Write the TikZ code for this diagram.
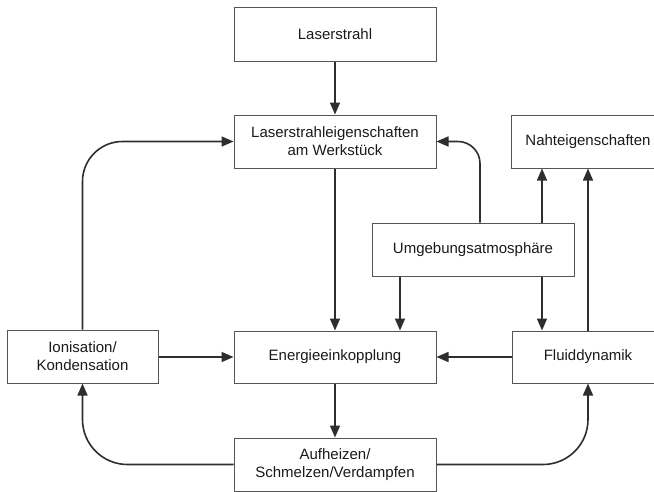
\documentclass[tikz,border=0pt]{standalone}
\usepackage{fontspec}
\setmainfont{Liberation Sans}
\usetikzlibrary{arrows.meta}
\definecolor{linec}{HTML}{2E2E2E}
\definecolor{boxc}{HTML}{555555}
\definecolor{txtc}{HTML}{1A1A1A}
\begin{document}
\begin{tikzpicture}[x=1pt,y=-1pt,
  box/.style={draw=boxc, line width=1pt, fill=white, rectangle, minimum height=53pt,
    inner sep=0pt, align=center, text=txtc, font=\fontsize{15}{18}\selectfont},
  arr/.style={draw=linec, line width=1.6pt, -{Triangle[width=10pt,length=12pt]}}]
\useasboundingbox (0,0) rectangle (654,491);
\clip (0,0) rectangle (654,491);
\fill[white] (0,0) rectangle (654,491);
\node[box, minimum width=202pt, minimum height=54pt] (las) at (335,34) {Laserstrahl};
\node[box, minimum width=202pt] (lse) at (335,141.5) {Laserstrahleigenschaften\\am Werkstück};
\node[box, minimum width=154pt] (naht) at (588,141.5) {Nahteigenschaften};
\node[box, minimum width=202pt] (umg) at (473,249.5) {Umgebungsatmosphäre};
\node[box, minimum width=151pt] (ion) at (82.5,356.5) {Ionisation/\\Kondensation};
\node[box, minimum width=202pt, minimum height=52pt] (ene) at (335,357) {Energieeinkopplung};
\node[box, minimum width=152pt, minimum height=52pt] (flu) at (588,357) {Fluiddynamik};
\node[box, minimum width=202pt] (auf) at (335,464.5) {Aufheizen/\\Schmelzen/Verdampfen};

\draw[arr] (las) -- (lse);
\draw[arr] (lse) -- (ene);
\draw[arr] (ene) -- (auf);
\draw[arr] (ion.east |- ene.west) -- (ene.west);
\draw[arr] (flu.west) -- (ene.east);
\draw[arr, rounded corners=40pt] (ion.north) |- (lse.west);
\draw[arr, rounded corners=22pt] ([xshift=7pt]umg.north) |- (lse.east);
\draw[arr] ([xshift=69pt]umg.north) -- ([xshift=69pt]umg.north |- naht.south);
\draw[arr] (flu.north) -- (naht.south);
\draw[arr] ([xshift=-73pt]umg.south) -- ([xshift=-73pt]umg.south |- ene.north);
\draw[arr] ([xshift=69pt]umg.south) -- ([xshift=69pt]umg.south |- flu.north);
\draw[arr, rounded corners=45pt] (auf.west) -| (ion.south);
\draw[arr, rounded corners=45pt] (auf.east) -| (flu.south);
\end{tikzpicture}
\end{document}
